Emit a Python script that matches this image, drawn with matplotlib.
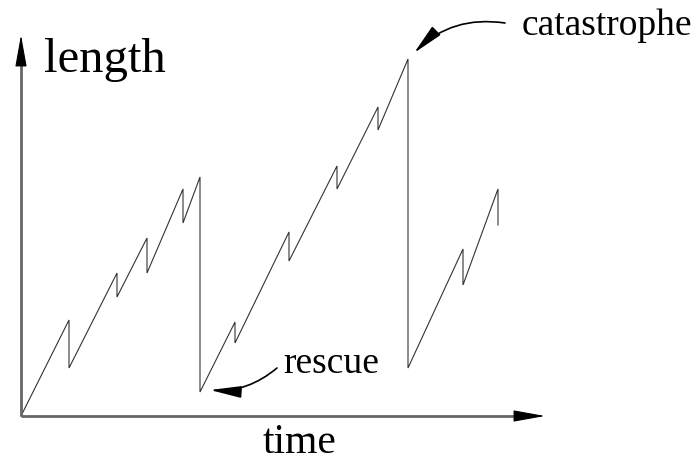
import matplotlib
matplotlib.use('Agg')
import matplotlib.pyplot as plt

# microtubule length vs time (sawtooth)
t = [0, 48, 48, 96, 96, 126, 126, 162, 162, 179, 179, 214, 214, 268, 268,
     316, 316, 357, 357, 387, 387, 442, 442, 477, 477]
length = [0, 96, 48, 143, 119, 178, 143, 227, 193, 239, 24, 94, 73, 184, 155,
          250, 227, 309, 286, 357, 48, 167, 131, 227, 191]

x_axis_end = 524
y_axis_end = 381
head = 26

rescue_tip = (189, 26)
rescue_from = (256, 48)
catastrophe_tip = (393, 363)
catastrophe_from = (484, 393)

plt.rcParams['font.family'] = ['Liberation Serif', 'DejaVu Serif']

fig = plt.figure(figsize=(6.98, 4.62), dpi=100)
ax = fig.add_axes([0, 0, 1, 1])
ax.set_xlim(-21, 677)
ax.set_ylim(-46, 416)
ax.axis('off')

ax.plot(t, length, color='#333333', lw=0.8, solid_joinstyle='miter')

# axes: grey shafts, black heads
ax.plot([0, x_axis_end - head], [0, 0], color='#666666', lw=2.0,
        solid_capstyle='butt')
ax.plot([0, 0], [0, y_axis_end - head], color='#666666', lw=2.0,
        solid_capstyle='butt')
head_style = dict(arrowstyle='-|>,head_length=2.0,head_width=0.36',
                  color='black', lw=0.8, shrinkA=0, shrinkB=0)
ax.annotate('', xy=(x_axis_end, 0), xytext=(x_axis_end - head, 0),
            arrowprops=head_style)
ax.annotate('', xy=(0, y_axis_end), xytext=(0, y_axis_end - head),
            arrowprops=head_style)

ax.text(23, 344, 'length', fontsize=35, va='baseline', ha='left')
ax.text(279, -37, 'time', fontsize=30, va='baseline', ha='center')
ax.text(262, 43, 'rescue', fontsize=27, va='baseline', ha='left')
ax.text(501, 381, 'catastrophe', fontsize=27, va='baseline', ha='left')

note_arrow = dict(arrowstyle='-|>,head_length=1.9,head_width=0.36',
                  color='black', lw=1.2, shrinkA=0, shrinkB=0)
ax.annotate('', xy=rescue_tip, xytext=rescue_from,
            arrowprops=dict(note_arrow, connectionstyle='arc3,rad=-0.2'))
ax.annotate('', xy=catastrophe_tip, xytext=catastrophe_from,
            arrowprops=dict(note_arrow, connectionstyle='arc3,rad=0.25'))

plt.savefig('out.png', dpi=100)
